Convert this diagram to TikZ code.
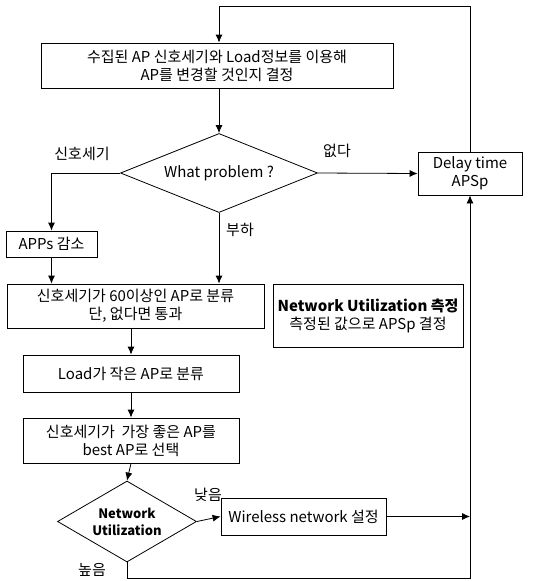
\documentclass[tikz,border=0pt]{standalone}
\usepackage{fontspec}
\setmainfont{Noto Sans CJK KR}
\usetikzlibrary{shapes.geometric,arrows.meta}

\begin{document}
\begin{tikzpicture}[x=1pt,y=-1pt,line width=0.8pt,
    font=\fontsize{15}{18}\selectfont,
    box/.style={draw, align=center, inner sep=0pt},
    cond/.style={draw, diamond, align=center, inner sep=0pt},
    flow/.style={-{Latex[length=8pt,width=7pt]}},
    lbl/.style={inner sep=0pt}]
            \useasboundingbox (0,0) rectangle (544,581);
            \node[box, minimum width=352pt, minimum height=45pt] (collect) at (217,65.5) {수집된 AP 신호세기와 Load정보를 이용해\\AP를 변경할 것인지 결정};
            \node[cond, minimum width=197pt, minimum height=79pt, shape aspect=2.5, inner sep=-4pt] (problem) at (219,173) {What problem ?};
            \node[box, minimum width=104pt, minimum height=43pt] (delay) at (470,173.5) {Delay time\\APSp};
            \node[box, minimum width=91pt, minimum height=26pt] (apps) at (51.5,244) {APPs 감소};
            \node[box, minimum width=257pt, minimum height=44pt] (strong) at (135.5,306) {신호세기가 60이상인 AP로 분류\\단, 없다면 통과};
            \node[box, minimum width=190pt, minimum height=63pt] (measure) at (368,315.5) {\textbf{Network Utilization 측정}\\측정된 값으로 APSp 결정};
            \node[box, minimum width=216pt, minimum height=37pt] (load) at (131,373.5) {Load가 작은 AP로 분류};
            \node[box, minimum width=216pt, minimum height=45pt] (best) at (131,440.5) {신호세기가 \ 가장 좋은 AP를\\best AP로 선택};
            \node[cond, minimum width=139pt, minimum height=81pt, shape aspect=1.7, inner sep=-10pt, font=\fontsize{13}{17}\selectfont\bfseries] (util) at (127,521.5) {Network\\Utilization};
            \node[box, minimum width=165pt, minimum height=37pt] (wireless) at (303.5,516.5) {Wireless network 설정};
            \coordinate (corner) at (470,578);

            \node[lbl] (none) at (337,151) {없다};
            \node[lbl] (signal) at (82,154) {신호세기};
            \node[lbl] (burden) at (240,230) {부하};
            \node[lbl] (low) at (208,495) {낮음};
            \node[lbl] (high) at (92,570) {높음};

            \draw[flow] (delay.north) -- ++(0,-145) -| (problem.north |- collect.north);
            \draw[flow] (problem.north |- collect.south) -- (problem.north);
            \draw[flow] (problem.east) -- (delay.west);
            \draw[flow] (problem.west) -| (apps.north);
            \draw[flow] (problem.south) -- (problem.south |- strong.north);
            \draw[flow] (apps.south) -- (apps.south |- strong.north);
            \draw[flow] (load.north |- strong.south) -- (load.north);
            \draw[flow] (load.south) -- (best.north);
            \draw[flow] (best.south) -- (util.north);
            \draw[flow] (util.east) -- (wireless.west);
            \draw[flow] (wireless.east) -- (wireless.east -| delay.south);
            \draw[flow] (util.south) |- (corner) -- (delay.south);
        \end{tikzpicture}
\end{document}
